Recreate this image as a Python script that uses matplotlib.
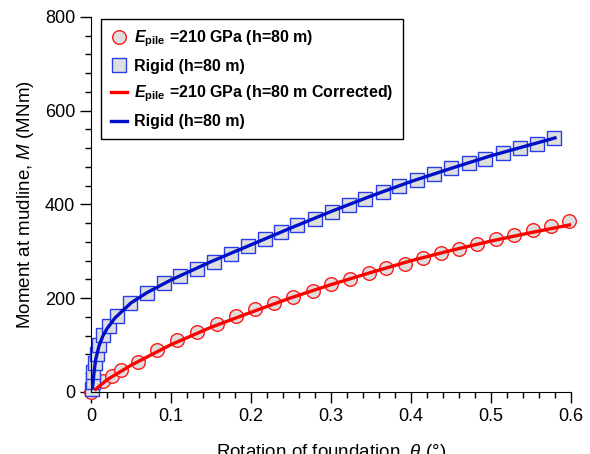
#!/usr/bin/env python3

import numpy as np
import matplotlib
matplotlib.use("Agg")
import matplotlib.pyplot as plt
from matplotlib.ticker import MultipleLocator

plt.rcParams['font.family'] = ['Liberation Sans', 'DejaVu Sans']
plt.rcParams['mathtext.fontset'] = 'custom'
plt.rcParams['mathtext.rm'] = 'Liberation Sans'
plt.rcParams['mathtext.it'] = 'Liberation Sans:italic'
plt.rcParams['mathtext.bf'] = 'Liberation Sans:bold'
plt.rcParams['mathtext.bfit'] = 'Liberation Sans:italic:bold'

# E_pile = 210 GPa, markers
theta_e = [0.0, 0.015, 0.026, 0.038, 0.059, 0.083, 0.108, 0.132, 0.157, 0.181,
           0.205, 0.229, 0.253, 0.277, 0.300, 0.324, 0.347, 0.369, 0.392, 0.415,
           0.438, 0.460, 0.483, 0.506, 0.529, 0.552, 0.575, 0.598]
m_e = [0, 24, 34, 47, 65, 89, 110, 128, 145, 162,
       177, 190, 203, 216, 230, 241, 253, 264, 274, 285,
       296, 305, 315, 326, 335, 345, 354, 364]

# rigid, markers
theta_r = [0.001, 0.002, 0.003, 0.005, 0.007, 0.010, 0.015, 0.022, 0.032, 0.049,
           0.070, 0.091, 0.111, 0.132, 0.154, 0.175, 0.196, 0.217, 0.238, 0.258,
           0.280, 0.301, 0.322, 0.343, 0.365, 0.385, 0.407, 0.429, 0.450, 0.472,
           0.493, 0.515, 0.536, 0.558, 0.579]
m_r = [6, 22, 42, 62, 80, 100, 122, 141, 162, 189,
       212, 232, 247, 262, 278, 294, 311, 326, 342, 356,
       370, 385, 399, 412, 426, 440, 452, 465, 477, 488,
       498, 509, 520, 530, 542]

# corrected curves
theta_ec = [0.006, 0.02, 0.05, 0.1, 0.15, 0.2, 0.25, 0.3, 0.35, 0.4, 0.45, 0.5, 0.55, 0.6]
m_ec = [6, 26, 57, 101, 138, 170, 201, 229, 255, 280, 302, 322, 340, 357]

theta_rc = [0.002, 0.004, 0.006, 0.01, 0.015, 0.02, 0.03, 0.05, 0.07, 0.1, 0.15,
            0.2, 0.25, 0.3, 0.35, 0.4, 0.45, 0.5, 0.58]
m_rc = [10, 45, 70, 98, 120, 135, 158, 190, 212, 239, 278,
        314, 350, 385, 418, 449, 477, 504, 542]

fig = plt.figure(figsize=(5.9, 4.54), dpi=100)
ax = fig.add_axes([0.1542, 0.1366, 0.8136, 0.826])

grey = '#dedede'
ax.plot(theta_e, m_e, linestyle='none', marker='o', markersize=9.8,
        markerfacecolor=grey, markeredgecolor='#ff1a1a', markeredgewidth=1.0,
        label=r'$\mathbfit{E}_{\mathbf{pile}}$ =210 GPa (h=80 m)', clip_on=False, zorder=2)
ax.plot(theta_r, m_r, linestyle='none', marker='s', markersize=9.5,
        markerfacecolor=grey, markeredgecolor='#2a3ee6', markeredgewidth=1.0,
        label='Rigid (h=80 m)', clip_on=False, zorder=2)
ax.plot(theta_ec, m_ec, color='#ff0000', linewidth=2.4,
        label=r'$\mathbfit{E}_{\mathbf{pile}}$ =210 GPa (h=80 m Corrected)', zorder=3)
ax.plot(theta_rc, m_rc, color='#0010c8', linewidth=2.4,
        label='Rigid (h=80 m)', zorder=3)

ax.set_xlim(0, 0.6)
ax.set_ylim(0, 800)
ax.set_xticks([0, 0.1, 0.2, 0.3, 0.4, 0.5, 0.6])
ax.set_xticklabels(['0', '0.1', '0.2', '0.3', '0.4', '0.5', '0.6'])
ax.xaxis.set_minor_locator(MultipleLocator(0.02))
ax.yaxis.set_major_locator(MultipleLocator(200))
ax.yaxis.set_minor_locator(MultipleLocator(40))

for s in ['top', 'right']:
    ax.spines[s].set_visible(False)
ax.tick_params(which='major', direction='out', length=8, width=1, labelsize=13)
ax.tick_params(which='minor', direction='out', length=4, width=1)

ax.set_ylabel(r'Moment at mudline, $\mathit{M}$ (MNm)', fontsize=13.5, labelpad=6)
ax.set_xlabel(r'Rotation of foundation, $\theta$ ($\degree$)', fontsize=13.5, labelpad=12)

leg = ax.legend(loc='upper left', bbox_to_anchor=(0.021, 0.995), borderaxespad=0,
                fancybox=False, edgecolor='black', framealpha=1,
                handlelength=1.0, handletextpad=0.45, borderpad=0.6,
                labelspacing=0.62, prop={'weight': 'bold', 'size': 11.5})
leg.get_frame().set_linewidth(1.0)

plt.savefig('out.png', dpi=100)
plt.close()
